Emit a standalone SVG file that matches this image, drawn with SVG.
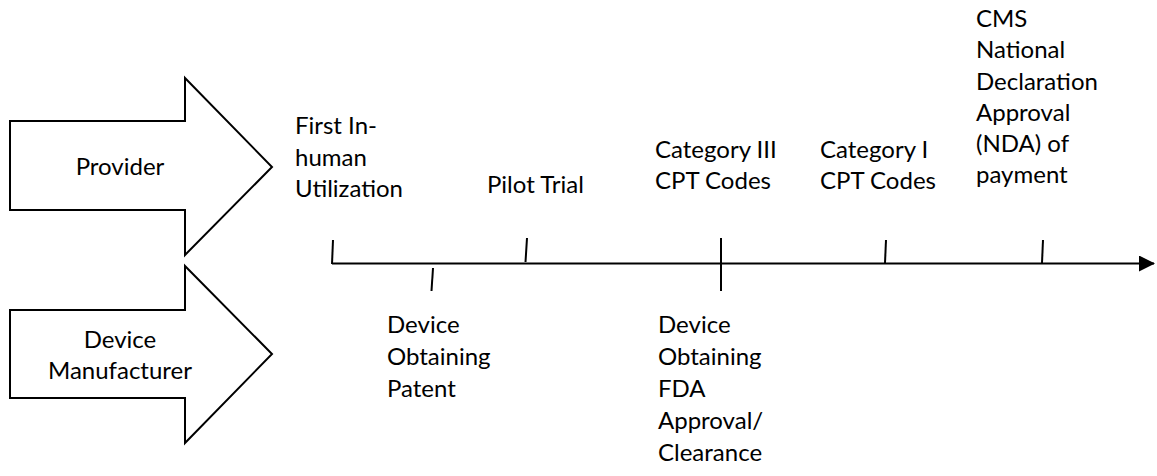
<svg xmlns="http://www.w3.org/2000/svg" width="1157" height="476" viewBox="0 0 1157 476">
<defs>
<style>
.t{font-family:Lato,"Liberation Sans",sans-serif;font-size:24px;fill:#000}
.c{text-anchor:middle}
.shape{fill:#fff;stroke:#000;stroke-width:2;stroke-linejoin:miter}
.ln{stroke:#000;stroke-width:2;fill:none}
</style>
<marker id="ah" markerUnits="userSpaceOnUse" markerWidth="16" markerHeight="16" viewBox="0 0 16 16" refX="15" refY="8" orient="auto">
<path d="M0,0 L16,8 L0,16 Z" fill="#000"/>
</marker>
</defs>
<rect width="1157" height="476" fill="#fff"/>
<g id="provider">
<path class="shape" d="M10,121 L185,121 L185,78 L272,167 L185,255 L185,210 L10,210 Z"/>
<text class="t c" x="120" y="175">Provider</text>
</g>
<g id="manufacturer">
<path class="shape" d="M10,310 L185,310 L185,266 L272,354 L185,443 L185,398 L10,398 Z"/>
<text class="t c" x="120" y="348">Device</text>
<text class="t c" x="120" y="379">Manufacturer</text>
</g>
<g id="connectors">
<line class="ln" x1="332" y1="263.5" x2="1154" y2="263.5" marker-end="url(#ah)"/>
<line class="ln" x1="333" y1="240" x2="332" y2="264"/>
<line class="ln" x1="433" y1="268" x2="431.5" y2="291"/>
<line class="ln" x1="527" y1="238" x2="525.5" y2="262"/>
<line class="ln" x1="721" y1="238" x2="721" y2="291"/>
<line class="ln" x1="886" y1="240" x2="885" y2="263"/>
<line class="ln" x1="1043" y1="240" x2="1042" y2="263"/>
</g>
<g id="first-in-human">
<text class="t" x="295" y="134">First In-</text>
<text class="t" x="295" y="165.5">human</text>
<text class="t" x="295" y="197">Utilization</text>
</g>
<g id="pilot-trial">
<text class="t" x="487" y="193">Pilot Trial</text>
</g>
<g id="category-iii">
<text class="t" x="655" y="158">Category III</text>
<text class="t" x="655" y="189">CPT Codes</text>
</g>
<g id="category-i">
<text class="t" x="820" y="158">Category I</text>
<text class="t" x="820" y="189">CPT Codes</text>
</g>
<g id="cms-nda">
<text class="t" x="976" y="27">CMS</text>
<text class="t" x="976" y="58">National</text>
<text class="t" x="976" y="89.5">Declaration</text>
<text class="t" x="976" y="120.5">Approval</text>
<text class="t" x="976" y="152">(NDA) of</text>
<text class="t" x="976" y="183">payment</text>
</g>
<g id="patent">
<text class="t" x="387" y="333">Device</text>
<text class="t" x="387" y="365">Obtaining</text>
<text class="t" x="387" y="397">Patent</text>
</g>
<g id="fda">
<text class="t" x="658" y="333">Device</text>
<text class="t" x="658" y="365">Obtaining</text>
<text class="t" x="658" y="397">FDA</text>
<text class="t" x="658" y="429">Approval/</text>
<text class="t" x="658" y="461">Clearance</text>
</g>
</svg>
